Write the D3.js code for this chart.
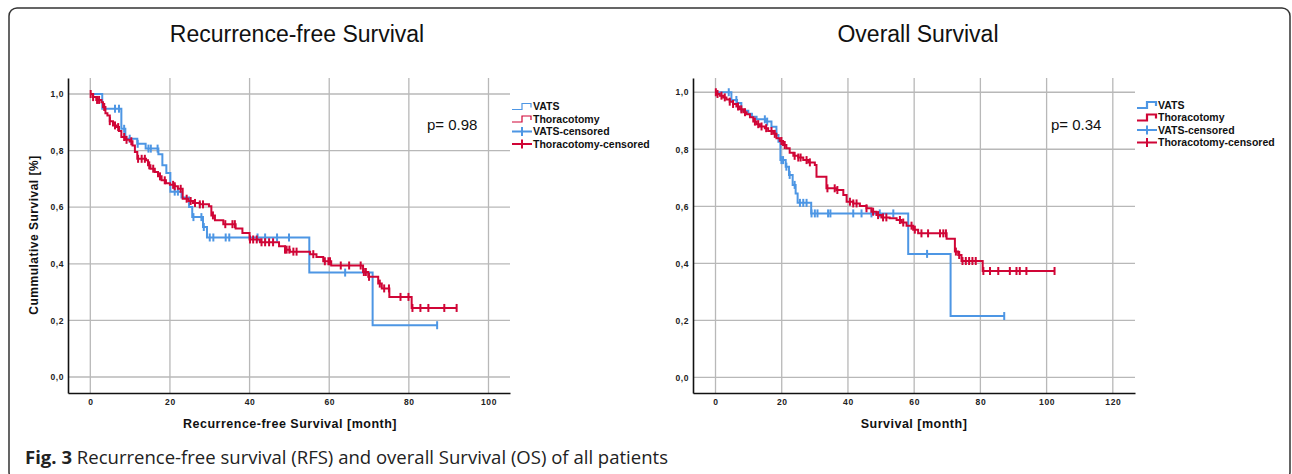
<!DOCTYPE html>
<html>
<head>
<meta charset="utf-8">
<script src="https://cdn.jsdelivr.net/npm/d3@7"></script>
<style>
  body { margin: 0; background: #fff; }
  svg { display: block; font-family: "Liberation Sans", Arial, sans-serif; }
</style>
</head>
<body>
<svg id="chart" width="1292" height="474"></svg>
<script>
// [month, survival] step points
const rfsVats = [[0,1],[3.0,0.948],[7.8,0.877],[8.8,0.842],[11.8,0.824],[13.9,0.807],[17.1,0.787],
  [18.1,0.748],[19.1,0.721],[20.1,0.655],[22.9,0.634],[24.8,0.601],[25.6,0.565],[28.3,0.530],
  [29.3,0.493],[55.0,0.369],[70.9,0.183]];
const rfsVatsCensored = [6.2,7.2,8.5,9.9,11.9,14.6,15.2,16.9,21.2,22.0,25.9,27.9,28.5,30.0,30.9,
  34.0,34.9,42.0,43.9,46.9,49.9,64.0,87.1];

const rfsThor = [[0,1],[0.7,0.989],[1.5,0.979],[2.8,0.971],[3.2,0.954],[3.8,0.932],[4.3,0.924],
  [4.9,0.904],[5.7,0.889],[6.6,0.883],[7.2,0.869],[7.8,0.848],[8.7,0.838],[9.9,0.833],[10.6,0.818],
  [11.2,0.795],[11.8,0.771],[14.0,0.766],[14.5,0.748],[15.1,0.736],[16.2,0.724],[17.0,0.709],
  [17.9,0.695],[19.0,0.685],[20.0,0.679],[21.2,0.674],[22.0,0.665],[23.2,0.630],[24.6,0.622],
  [25.8,0.615],[27.5,0.610],[29.8,0.603],[30.4,0.571],[31.3,0.554],[33.4,0.540],[36.5,0.525],
  [38.2,0.509],[40.0,0.486],[42.6,0.476],[47.4,0.462],[48.9,0.450],[50.1,0.443],[55.2,0.434],
  [56.8,0.424],[58.5,0.409],[60.5,0.394],[68.5,0.371],[69.8,0.354],[72.3,0.330],[73.2,0.313],
  [75.1,0.283],[80.7,0.244]];
const rfsThorCensored = [0.1,0.7,1.7,2.2,3.5,4.9,6.2,7.0,8.5,9.1,10.3,12.0,12.9,13.7,14.8,15.8,17.5,
  18.7,20.8,21.2,22.7,24.2,25.2,26.3,27.5,28.3,30.8,33.9,35.7,36.3,40.1,40.9,41.8,43.0,43.9,44.9,
  45.9,48.9,49.3,50.0,51.0,51.8,56.0,58.9,59.8,60.2,62.9,65.0,67.9,68.7,69.2,70.0,72.7,73.8,75.0,
  77.9,79.9,80.9,82.9,84.9,88.9,92.0];

const osVats = [[0,1],[4.8,0.973],[6.5,0.962],[7.8,0.935],[9.9,0.925],[11.0,0.914],[12.4,0.905],
  [15.2,0.897],[16.9,0.879],[18.4,0.850],[19.0,0.826],[19.6,0.762],[21.2,0.739],[22.2,0.710],
  [23.3,0.675],[24.2,0.645],[24.8,0.612],[28.9,0.575],[58.2,0.433],[71.0,0.215]];
const osVatsCensored = [4.0,6.3,14.9,15.6,19.9,20.4,21.4,22.4,23.9,25.5,26.5,27.5,29.0,30.0,30.8,
  34.0,34.7,41.6,44.1,47.1,49.6,53.7,63.9,87.2];

const osThor = [[0,1],[0.3,0.994],[1.3,0.988],[2.3,0.982],[3.3,0.975],[4.3,0.967],[5.3,0.959],
  [6.3,0.950],[7.3,0.940],[8.4,0.930],[9.4,0.923],[10.4,0.912],[11.4,0.897],[12.4,0.888],
  [13.4,0.880],[14.9,0.874],[15.9,0.864],[17.4,0.854],[18.4,0.839],[19.4,0.829],[20.4,0.815],
  [21.4,0.804],[22.4,0.788],[23.5,0.777],[25.0,0.771],[26.5,0.762],[28.0,0.754],[30.0,0.745],
  [30.5,0.704],[33.5,0.663],[36.5,0.657],[38.6,0.640],[39.6,0.616],[41.6,0.610],[43.6,0.601],
  [45.6,0.593],[47.1,0.581],[48.6,0.569],[50.1,0.561],[52.6,0.558],[54.7,0.552],[56.2,0.543],
  [57.7,0.532],[59.7,0.518],[61.2,0.505],[69.8,0.486],[72.3,0.441],[73.3,0.429],[74.3,0.408],
  [80.7,0.373]];
const osThorCensored = [0.1,0.6,1.8,2.8,4.3,5.3,6.8,7.8,8.9,11.9,12.9,13.9,15.3,16.9,17.9,19.9,
  20.9,23.9,25.0,25.7,27.5,28.5,33.8,36.0,36.8,40.6,41.6,42.6,45.6,47.6,49.1,50.6,51.6,55.7,56.7,
  59.2,60.2,62.2,64.2,67.8,68.8,69.6,72.6,73.6,74.6,75.6,76.6,77.6,78.6,80.9,82.9,85.4,88.9,90.9,
  91.9,93.9,102.4];

const rfsXTicks = [0, 20, 40, 60, 80, 100];
const osXTicks = [0, 20, 40, 60, 80, 100, 120];
const yTicks = [0, 0.2, 0.4, 0.6, 0.8, 1.0];
const legendLabels = ["VATS", "Thoracotomy", "VATS-censored", "Thoracotomy-censored"];

const BLUE = "#4d96e4";
const RED = "#d00536";
const GRID = "#b8b8b8";

const svg = d3.select("#chart");

svg.append("rect")
  .attr("x", 9).attr("y", 8)
  .attr("width", 1281).attr("height", 472)
  .attr("rx", 8)
  .style("fill", "none")
  .style("stroke", "#333")
  .style("stroke-width", 1.5);

const survivalAt = (steps, t) => {
  const i = d3.bisector(d => d[0]).right(steps, t) - 1;
  return steps[Math.max(i, 0)][1];
};

const drawCurve = (g, x, y, steps, censored, color) => {
  const end = d3.max(censored);
  const pts = steps.concat([[end, steps[steps.length - 1][1]]]);
  const line = d3.line()
    .x(d => x(d[0]))
    .y(d => y(d[1]))
    .curve(d3.curveStepAfter);

  g.append("path")
    .datum(pts)
    .attr("d", line)
    .style("fill", "none")
    .style("stroke", color)
    .style("stroke-width", 2);

  g.selectAll(null)
    .data(censored)
    .enter()
    .append("line")
    .attr("x1", d => x(d))
    .attr("x2", d => x(d))
    .attr("y1", d => y(survivalAt(steps, d)) - 4)
    .attr("y2", d => y(survivalAt(steps, d)) + 4)
    .style("stroke", color)
    .style("stroke-width", 2);
};

const drawLegend = (x0, y0, stepWidth) => {
  const g = svg.append("g").attr("transform", `translate(${x0},${y0})`);
  const rows = g.selectAll("g")
    .data(legendLabels)
    .enter()
    .append("g")
    .attr("transform", (d, i) => `translate(0,${i * 12.5})`);

  rows.append("path")
    .attr("d", (d, i) => i < 2 ? "M0,3H10V-3H19V1" : "M0,0H20M10,-4.5V4.5")
    .style("fill", "none")
    .style("stroke", (d, i) => i % 2 === 0 ? BLUE : RED)
    .style("stroke-width", (d, i) => i < 2 ? stepWidth : 2);

  rows.append("text")
    .attr("x", 21)
    .attr("y", 3.6)
    .style("font-size", "10.5px")
    .style("font-weight", "bold")
    .style("fill", "#111")
    .text(d => d);
};

const drawPanel = p => {
  const x = d3.scaleLinear().domain(p.xDomain).range([p.left, p.right]);
  const y = d3.scaleLinear().domain(p.yDomain).range([393, 78]);
  const g = svg.append("g");

  g.selectAll(".vgrid")
    .data(p.xTicks)
    .enter()
    .append("line")
    .attr("class", "vgrid")
    .attr("x1", d => x(d)).attr("x2", d => x(d))
    .attr("y1", 78).attr("y2", 393)
    .style("stroke", GRID)
    .style("stroke-width", 1.3);

  g.selectAll(".hgrid")
    .data(yTicks)
    .enter()
    .append("line")
    .attr("class", "hgrid")
    .attr("x1", p.left).attr("x2", p.right)
    .attr("y1", d => y(d)).attr("y2", d => y(d))
    .style("stroke", GRID)
    .style("stroke-width", 1.3);

  const xAxis = g.append("g")
    .attr("transform", "translate(0,393)")
    .call(d3.axisBottom(x).tickValues(p.xTicks).tickSize(0).tickPadding(6).tickFormat(d3.format("d")));
  const yAxis = g.append("g")
    .attr("transform", `translate(${p.left},0)`)
    .call(d3.axisLeft(y).tickValues(yTicks).tickSize(0).tickPadding(4)
      .tickFormat(d => d3.format(".1f")(d).replace(".", ",")));

  [xAxis, yAxis].forEach(a => {
    a.select(".domain").style("stroke", "#111").style("stroke-width", 1.6);
    a.selectAll("text")
      .style("font-size", "8.5px")
      .style("font-weight", "bold")
      .style("letter-spacing", "0.6px")
      .style("fill", "#222")
      .style("font-family", "'Liberation Sans', Arial, sans-serif");
  });

  drawCurve(g, x, y, p.vats, p.vatsCensored, BLUE);
  drawCurve(g, x, y, p.thor, p.thorCensored, RED);

  svg.append("text")
    .attr("x", p.titleX).attr("y", 42)
    .attr("text-anchor", "middle")
    .style("font-size", "23px")
    .style("fill", "#111")
    .text(p.title);

  svg.append("text")
    .attr("x", p.xLabelX).attr("y", 428)
    .attr("text-anchor", "middle")
    .style("font-size", "12.5px")
    .style("font-weight", "bold")
    .style("letter-spacing", "0.5px")
    .style("fill", "#111")
    .text(p.xLabel);

  svg.append("text")
    .attr("x", p.pX).attr("y", 130)
    .style("font-size", "15px")
    .style("fill", "#111")
    .text(p.pText);

  drawLegend(p.legendX, p.legendY, p.legendStroke);
};

drawPanel({
  left: 68, right: 510,
  xDomain: [-5.6, 105.4], yDomain: [-0.0565, 1.0565],
  xTicks: rfsXTicks,
  vats: rfsVats, vatsCensored: rfsVatsCensored,
  thor: rfsThor, thorCensored: rfsThorCensored,
  title: "Recurrence-free Survival", titleX: 297,
  xLabel: "Recurrence-free Survival [month]", xLabelX: 290,
  pText: "p= 0.98", pX: 427,
  legendX: 512, legendY: 106.5, legendStroke: 1.2
});

drawPanel({
  left: 693, right: 1135,
  xDomain: [-6.8, 126.7], yDomain: [-0.055, 1.05],
  xTicks: osXTicks,
  vats: osVats, vatsCensored: osVatsCensored,
  thor: osThor, thorCensored: osThorCensored,
  title: "Overall Survival", titleX: 918,
  xLabel: "Survival [month]", xLabelX: 914,
  pText: "p= 0.34", pX: 1051,
  legendX: 1137, legendY: 105, legendStroke: 2.2
});

svg.append("text")
  .attr("transform", "translate(38,235) rotate(-90)")
  .attr("text-anchor", "middle")
  .style("font-size", "12px")
  .style("font-weight", "bold")
  .style("letter-spacing", "0.5px")
  .style("fill", "#111")
  .text("Cummulative Survival [%]");

const caption = svg.append("text")
  .attr("x", 25).attr("y", 464)
  .attr("textLength", 643)
  .attr("lengthAdjust", "spacingAndGlyphs")
  .style("font-family", "'Open Sans', sans-serif")
  .style("font-size", "18px")
  .style("fill", "#222");
caption.append("tspan").style("font-weight", "bold").text("Fig. 3");
caption.append("tspan").text(" Recurrence-free survival (RFS) and overall Survival (OS) of all patients");
</script>
</body>
</html>
